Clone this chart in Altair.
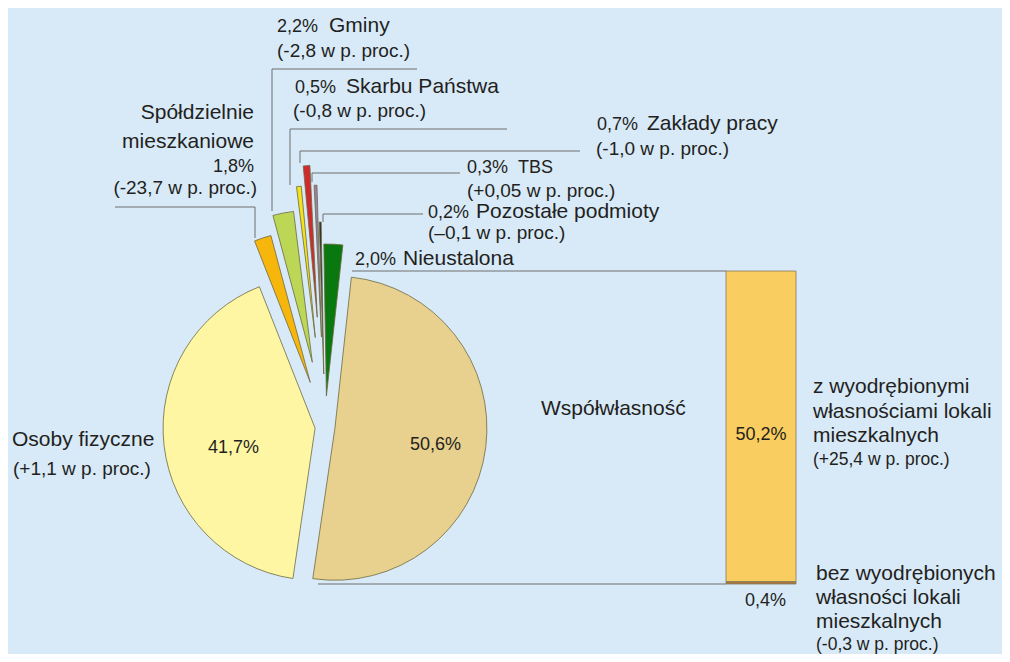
import math
import altair as alt
import pandas as pd

# ---------------- data ----------------
slice_names = ["Spółdzielnie mieszkaniowe", "Gminy", "Skarbu Państwa", "Zakłady pracy",
               "TBS", "Pozostałe podmioty", "Nieustalona", "Współwłasność", "Osoby fizyczne"]
slice_values = [1.8, 2.2, 0.5, 0.7, 0.3, 0.2, 2.0, 50.6, 41.7]
slice_changes = ["-23,7", "-2,8", "-0,8", "-1,0", "+0,05", "–0,1", "", "", "+1,1"]

bar_names = ["bez wyodrębionych własności lokali mieszkalnych",
             "z wyodrębionymi własnościami lokali mieszkalnych"]
bar_values = [0.4, 50.2]
bar_changes = ["-0,3", "+25,4"]

# ---------------- styles / layout ----------------
slice_colors = ["#f6b60c", "#bcd655", "#f4e21a", "#cf2a2c", "#9a80ad",
                "#2a2a2a", "#08780f", "#e8d08e", "#fff6a4"]
slice_explode = [47, 66, 90, 110, 90, 53, 31, 10, 10]
bar_colors = ["#a5773c", "#f9cd5f"]
BG = "#d8e9f8"
TXT = "#231f20"
LINE = "#6e6e6e"
FONT = "Liberation Sans"
OFF = 8  # page margin
CX, CY, R = 325 - OFF, 427 - OFF, 152
A0 = math.radians(338.5)
BX0, BX1, BY_TOP, BY_BOT = 726 - OFF, 796 - OFF, 271 - OFF, 584 - OFF


def pct(v):
    return f"{v:.1f}%".replace(".", ",")


def chg(c):
    return f"({c} w p. proc.)"


# ---------------- pie ----------------
pie_df = pd.DataFrame({
    "name": slice_names,
    "value": slice_values,
    "order": list(range(len(slice_names))),
    "explode": slice_explode,
})

pie = alt.Chart(pie_df).transform_window(
    end="sum(value)", sort=[alt.SortField("order")], frame=[None, 0]
).transform_calculate(
    start="datum.end - datum.value"
).transform_calculate(
    mid=f"{A0} + (datum.start + datum.end) / 200 * 2 * PI"
).transform_calculate(
    px=f"{CX} + datum.explode * sin(datum.mid)",
    py=f"{CY} - datum.explode * cos(datum.mid)",
).mark_arc(radius=R, stroke="#6d6a40", strokeWidth=0.8).encode(
    theta=alt.Theta("start:Q", stack=None,
                    scale=alt.Scale(domain=[0, 100], range=[A0, A0 + 2 * math.pi])),
    theta2=alt.Theta2("end:Q"),
    x=alt.X("px:Q", scale=None),
    y=alt.Y("py:Q", scale=None),
    color=alt.Color("name:N", scale=alt.Scale(domain=slice_names, range=slice_colors), legend=None),
    order=alt.Order("order:Q"),
)

# ---------------- bar ----------------
bar_df = pd.DataFrame({"name": bar_names, "value": bar_values, "ord": [0, 1]})
bar = alt.Chart(bar_df).transform_window(
    b_end="sum(value)", sort=[alt.SortField("ord")], frame=[None, 0]
).transform_calculate(
    b_start="datum.b_end - datum.value"
).mark_bar(stroke="#857a5c", strokeWidth=0.8).encode(
    x=alt.value(BX0), x2=alt.value(BX1),
    y=alt.Y("b_start:Q", axis=None,
            scale=alt.Scale(domain=[0, sum(bar_values)], range=[BY_BOT, BY_TOP])),
    y2=alt.Y2("b_end:Q"),
    color=alt.Color("name:N", scale=alt.Scale(domain=bar_names, range=bar_colors), legend=None),
)

# ---------------- leader lines ----------------
lines = [
    (115, 207, 255, 207), (255, 207, 255, 238),
    (272, 69, 417, 69), (272, 69, 272, 211),
    (290, 129, 507, 129), (290, 129, 290, 185),
    (300, 151, 580, 151), (300, 151, 300, 163),
    (312, 173, 460, 173), (312, 173, 312, 182),
    (323, 214, 423, 214), (323, 214, 323, 222),
    (352, 271, 726, 271),
    (318, 584, 726, 584),
]
lines_df = pd.DataFrame([{"x": a - OFF, "y": b - OFF, "x2": c - OFF, "y2": d - OFF}
                         for a, b, c, d in lines])
rules = alt.Chart(lines_df).mark_rule(color=LINE, strokeWidth=1).encode(
    x=alt.X("x:Q", scale=None), y=alt.Y("y:Q", scale=None),
    x2="x2:Q", y2="y2:Q",
)

# ---------------- text ----------------
NAME, PCT, SUB, BNAME, BSUB = 21, 18, 19, 21, 17.5
labels = [
    # text, x, baseline y, size, align
    ("Spółdzielnie", 254, 119, NAME, "right"),
    ("mieszkaniowe", 254, 148, NAME, "right"),
    (pct(slice_values[0]), 254, 172, PCT, "right"),
    (chg(slice_changes[0]), 257, 194, SUB, "right"),
    (pct(slice_values[1]), 277, 32, PCT, "left"),
    (slice_names[1], 329, 32, NAME, "left"),
    (chg(slice_changes[1]), 277, 57, SUB, "left"),
    (pct(slice_values[2]), 295, 93, PCT, "left"),
    (slice_names[2], 346, 93, NAME, "left"),
    (chg(slice_changes[2]), 293, 117, SUB, "left"),
    (pct(slice_values[3]), 597, 130, PCT, "left"),
    (slice_names[3], 647, 130, NAME, "left"),
    (chg(slice_changes[3]), 596, 155, SUB, "left"),
    (pct(slice_values[4]), 467, 173, PCT, "left"),
    (slice_names[4], 518, 173, PCT, "left"),
    (chg(slice_changes[4]), 467, 197, SUB, "left"),
    (pct(slice_values[5]), 428, 218, PCT, "left"),
    (slice_names[5], 476, 218, NAME, "left"),
    (chg(slice_changes[5]), 428, 239, SUB, "left"),
    (pct(slice_values[6]), 355, 265, PCT, "left"),
    (slice_names[6], 403, 265, NAME, "left"),
    (slice_names[8], 12, 446, NAME, "left"),
    (chg(slice_changes[8]), 13, 475, SUB, "left"),
    (pct(slice_values[8]), 208, 453, PCT, "left"),
    (pct(slice_values[7]), 410, 450, PCT, "left"),
    (slice_names[7], 541, 415, NAME, "left"),
    (pct(bar_values[1]), 761, 440, PCT, "center"),
    ("z wyodrębionymi", 813, 393, BNAME, "left"),
    ("własnościami lokali", 813, 418, BNAME, "left"),
    ("mieszkalnych", 813, 442, BNAME, "left"),
    (chg(bar_changes[1]), 813, 465, BSUB, "left"),
    (pct(bar_values[0]), 745, 606, PCT, "left"),
    ("bez wyodrębionych", 816, 580, BNAME, "left"),
    ("własności lokali", 816, 604, BNAME, "left"),
    ("mieszkalnych", 816, 628, BNAME, "left"),
    (chg(bar_changes[0]), 816, 650, BSUB, "left"),
]
text_df = pd.DataFrame([{"t": t, "x": x - OFF, "y": y - OFF, "s": s, "a": a}
                        for t, x, y, s, a in labels])


def text_layer(align):
    return alt.Chart(text_df).transform_filter(
        alt.datum.a == align
    ).mark_text(font=FONT, baseline="alphabetic", align=align, color=TXT).encode(
        x=alt.X("x:Q", scale=None), y=alt.Y("y:Q", scale=None),
        text="t:N", size=alt.Size("s:Q", scale=None, legend=None),
    )


chart = alt.layer(
    rules, pie, bar, text_layer("left"), text_layer("right"), text_layer("center")
).resolve_scale(
    color="independent", x="independent", y="independent", size="independent"
).properties(
    width=994, height=646, padding=0, background=BG,
    autosize=alt.AutoSizeParams(type="none"),
).configure_view(stroke=None)

chart.save("out.html", embed_options={"renderer": "svg", "actions": False})
